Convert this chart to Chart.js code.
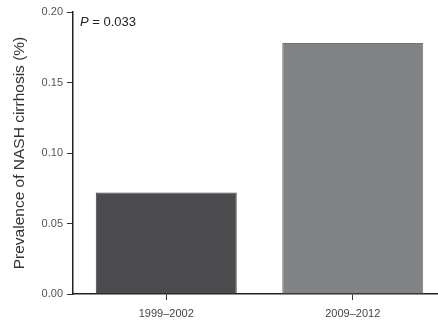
<!DOCTYPE html>
<html>
<head>
<meta charset="utf-8">
<script src="https://cdn.jsdelivr.net/npm/chart.js@4/dist/chart.umd.min.js"></script>
<style>
  html, body { margin: 0; padding: 0; background: #ffffff; overflow: hidden; }
  #wrap { width: 438px; height: 321px; position: relative; overflow: hidden; }
</style>
</head>
<body>
<div id="wrap"><canvas id="c" width="446" height="321"></canvas></div>
<script>
// Survey periods and prevalence of NASH cirrhosis (%)
const periods = ['1999\u20132002', '2009\u20132012'];
const prevalence = [0.072, 0.178];
const barColors = ['#4b4b4d', '#818284'];
const yTicks = [0.00, 0.05, 0.10, 0.15, 0.20];
const pValueText = ' = 0.033';

const FONT = '"Liberation Sans", Arial, Helvetica, sans-serif';

// Writes the P-value note in the upper-left corner of the plot area
const pValuePlugin = {
  id: 'pValue',
  afterDraw(chart) {
    const { ctx, chartArea } = chart;
    ctx.save();
    ctx.fillStyle = '#222';
    ctx.textBaseline = 'alphabetic';
    const x = chartArea.left + 7;
    const y = chartArea.top + 14;
    ctx.font = 'italic 13px ' + FONT;
    ctx.fillText('P', x, y);
    const w = ctx.measureText('P').width;
    ctx.font = '13px ' + FONT;
    ctx.fillText(pValueText, x + w, y);
    ctx.restore();
  }
};

new Chart(document.getElementById('c'), {
  type: 'bar',
  data: {
    labels: periods,
    datasets: [{
      data: prevalence,
      backgroundColor: barColors,
      borderColor: ['#3e3e40', '#737476'],
      borderWidth: 1,
      barPercentage: 0.756,
      categoryPercentage: 1.0
    }]
  },
  options: {
    responsive: false,
    animation: false,
    devicePixelRatio: 1,
    layout: { padding: { top: 12, right: 0, left: 0, bottom: 0 } },
    plugins: {
      legend: { display: false },
      tooltip: { enabled: false }
    },
    scales: {
      x: {
        offset: true,
        grid: { offset: false, drawOnChartArea: false, drawTicks: true, tickLength: 6, color: '#333', lineWidth: 1 },
        border: { color: '#222', width: 1.5 },
        ticks: { color: '#444', font: { family: FONT, size: 11 }, padding: 7, maxRotation: 0 },
        afterFit(scale) { scale.height = 27; }
      },
      y: {
        min: 0,
        max: 0.2,
        afterBuildTicks(scale) { scale.ticks = yTicks.map(v => ({ value: v })); },
        grid: { drawOnChartArea: false, drawTicks: true, tickLength: 6, color: '#333', lineWidth: 1 },
        border: { color: '#222', width: 1.5 },
        ticks: {
          color: '#555',
          font: { family: FONT, size: 11 },
          padding: 4,
          callback: v => Number(v).toFixed(2)
        },
        title: {
          display: true,
          text: 'Prevalence of NASH cirrhosis (%)',
          color: '#333',
          font: { family: FONT, size: 15.5 },
          padding: { top: 10, bottom: 4 }
        },
        afterFit(scale) { scale.width = 73; }
      }
    }
  },
  plugins: [pValuePlugin]
});
</script>
</body>
</html>
